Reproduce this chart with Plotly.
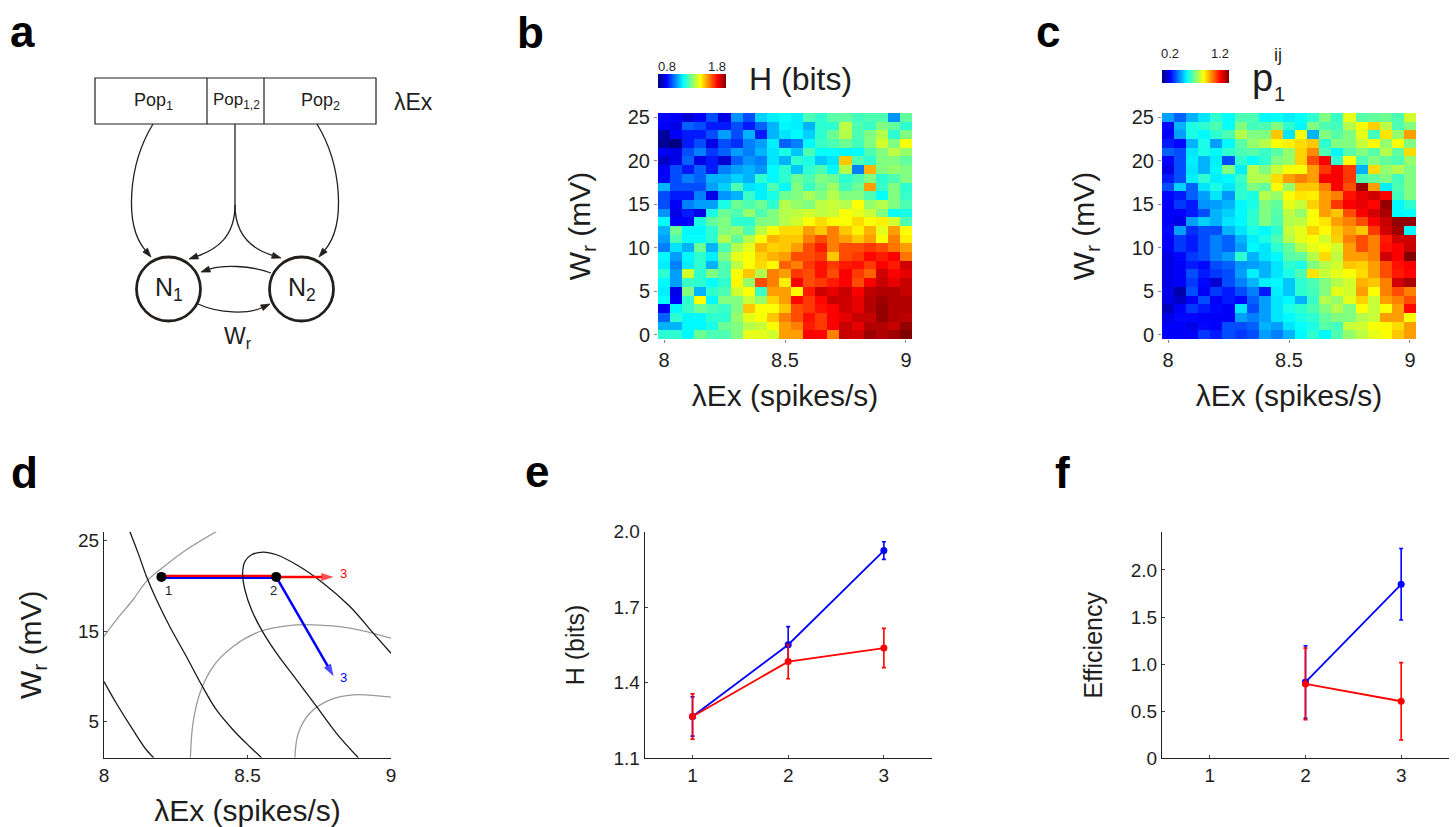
import math
import plotly.graph_objects as go

W, HH = 1456, 827
FONT = "Liberation Sans, Arial, Helvetica, sans-serif"
TXT = "#1e1e1e"

# ---------------- data ----------------
lam_ex = [8.00, 8.05, 8.10, 8.15, 8.20, 8.25, 8.30, 8.35, 8.40, 8.45, 8.50,
          8.55, 8.60, 8.65, 8.70, 8.75, 8.80, 8.85, 8.90, 8.95, 9.00]
w_r = [0, 1, 2, 3, 4, 5, 6, 7, 8, 9, 10, 11, 12, 13, 14, 15, 16, 17, 18, 19,
       20, 21, 22, 23, 24, 25]

# panel b: entropy H (bits), rows = W_r 0..25, cols = lambda 8..9
H_bits = [
    [1.22, 1.22, 1.17, 1.28, 1.25, 1.25, 1.30, 1.40, 1.40, 1.38, 1.52, 1.52, 1.68, 1.67, 1.55, 1.73, 1.72, 1.77, 1.75, 1.77, 1.80],
    [1.10, 1.10, 1.17, 1.17, 1.20, 1.28, 1.30, 1.35, 1.37, 1.42, 1.52, 1.55, 1.65, 1.62, 1.68, 1.73, 1.70, 1.75, 1.75, 1.73, 1.78],
    [1.02, 1.22, 1.17, 1.17, 1.22, 1.22, 1.32, 1.40, 1.42, 1.48, 1.55, 1.60, 1.66, 1.62, 1.68, 1.70, 1.73, 1.73, 1.78, 1.75, 1.74],
    [0.92, 1.17, 1.23, 1.28, 1.25, 1.23, 1.30, 1.48, 1.42, 1.42, 1.48, 1.60, 1.62, 1.66, 1.68, 1.72, 1.70, 1.75, 1.78, 1.75, 1.75],
    [1.18, 0.92, 1.22, 1.42, 1.17, 1.30, 1.30, 1.37, 1.32, 1.47, 1.52, 1.67, 1.62, 1.67, 1.73, 1.72, 1.70, 1.75, 1.77, 1.75, 1.75],
    [1.16, 0.90, 1.30, 1.10, 1.22, 1.25, 1.38, 1.42, 1.23, 1.52, 1.52, 1.43, 1.65, 1.72, 1.70, 1.73, 1.68, 1.74, 1.75, 1.75, 1.73],
    [1.17, 1.08, 1.23, 1.22, 1.18, 1.22, 1.43, 1.32, 1.60, 1.55, 1.44, 1.68, 1.60, 1.62, 1.65, 1.68, 1.60, 1.68, 1.73, 1.70, 1.73],
    [1.22, 1.08, 1.38, 1.22, 1.30, 1.25, 1.42, 1.48, 1.35, 1.55, 1.52, 1.62, 1.60, 1.66, 1.60, 1.68, 1.62, 1.58, 1.72, 1.68, 1.70],
    [1.16, 1.05, 1.16, 1.22, 1.10, 1.25, 1.36, 1.42, 1.46, 1.43, 1.58, 1.55, 1.62, 1.66, 1.62, 1.65, 1.66, 1.62, 1.68, 1.65, 1.72],
    [1.17, 1.08, 1.17, 1.22, 1.16, 1.30, 1.40, 1.42, 1.47, 1.50, 1.52, 1.60, 1.60, 1.62, 1.48, 1.60, 1.62, 1.67, 1.65, 1.68, 1.56],
    [1.05, 1.15, 1.10, 1.28, 1.10, 1.25, 1.35, 1.40, 1.50, 1.47, 1.48, 1.52, 1.60, 1.65, 1.55, 1.60, 1.60, 1.62, 1.60, 1.56, 1.52],
    [1.08, 1.25, 1.18, 1.18, 1.22, 1.35, 1.27, 1.35, 1.42, 1.50, 1.48, 1.48, 1.55, 1.60, 1.55, 1.52, 1.48, 1.52, 1.42, 1.55, 1.44],
    [1.10, 1.28, 1.17, 1.17, 1.22, 1.30, 1.32, 1.25, 1.36, 1.42, 1.46, 1.46, 1.52, 1.48, 1.55, 1.48, 1.44, 1.50, 1.40, 1.52, 1.42],
    [1.18, 0.92, 0.92, 1.20, 1.27, 1.30, 1.22, 1.22, 1.30, 1.30, 1.35, 1.38, 1.42, 1.46, 1.43, 1.42, 1.46, 1.42, 1.44, 1.38, 1.25],
    [1.07, 0.90, 0.95, 0.90, 1.20, 1.28, 1.25, 1.32, 1.25, 1.30, 1.35, 1.36, 1.38, 1.36, 1.37, 1.42, 1.40, 1.37, 1.30, 1.18, 1.20],
    [1.00, 0.92, 1.05, 1.08, 1.08, 1.20, 1.28, 1.25, 1.28, 1.22, 1.35, 1.32, 1.30, 1.36, 1.37, 1.35, 1.42, 1.32, 1.35, 1.30, 1.25],
    [1.00, 0.95, 0.95, 1.05, 0.90, 1.07, 1.10, 1.23, 1.16, 1.20, 1.28, 1.30, 1.34, 1.30, 1.35, 1.30, 1.30, 1.25, 1.18, 1.30, 1.23],
    [1.10, 1.00, 1.00, 1.00, 1.08, 1.13, 1.25, 1.15, 1.16, 1.25, 1.17, 1.30, 1.23, 1.28, 1.33, 1.24, 1.28, 1.52, 1.23, 1.30, 1.22],
    [0.92, 1.00, 1.05, 1.02, 1.10, 1.10, 1.13, 1.10, 1.22, 1.17, 1.22, 1.28, 1.25, 1.30, 1.28, 1.22, 1.25, 1.30, 1.22, 1.25, 1.30],
    [0.92, 1.00, 0.95, 1.02, 0.95, 1.05, 1.08, 1.10, 1.07, 1.17, 1.22, 1.12, 1.22, 1.25, 1.17, 1.35, 1.05, 1.50, 1.30, 1.32, 1.30],
    [0.87, 0.90, 1.02, 0.90, 0.95, 0.88, 1.02, 1.07, 1.05, 1.15, 1.10, 1.22, 1.20, 1.12, 1.15, 1.48, 1.25, 1.22, 1.30, 1.30, 1.27],
    [0.92, 0.90, 1.00, 1.05, 0.98, 1.02, 1.08, 1.05, 1.10, 1.15, 1.20, 1.12, 1.25, 1.18, 1.18, 1.17, 1.18, 1.25, 1.30, 1.36, 1.32],
    [0.82, 0.80, 0.95, 1.00, 0.90, 1.00, 0.97, 1.05, 1.08, 1.16, 1.02, 1.05, 1.17, 1.23, 1.25, 1.28, 1.24, 1.30, 1.38, 1.30, 1.42],
    [0.83, 0.92, 0.95, 0.95, 1.00, 1.08, 1.00, 1.10, 0.95, 1.10, 1.15, 1.17, 1.13, 1.22, 1.28, 1.35, 1.25, 1.30, 1.35, 1.22, 1.30],
    [0.92, 0.90, 1.02, 1.00, 0.95, 0.95, 1.00, 0.95, 1.02, 1.10, 1.17, 1.16, 1.10, 1.22, 1.22, 1.36, 1.25, 1.23, 1.30, 1.27, 1.22],
    [0.93, 0.92, 0.88, 0.92, 1.00, 0.90, 1.07, 1.00, 1.13, 1.16, 1.18, 1.16, 1.25, 1.22, 1.26, 1.27, 1.24, 1.25, 1.25, 1.07, 1.27],
]

# panel c: p1^ij, rows = W_r 0..25, cols = lambda 8..9
p1_ij = [
    [0.32, 0.32, 0.32, 0.38, 0.35, 0.40, 0.38, 0.40, 0.48, 0.45, 0.50, 0.57, 0.62, 0.57, 0.65, 0.72, 0.76, 0.80, 0.82, 0.88, 0.92],
    [0.32, 0.32, 0.30, 0.33, 0.32, 0.40, 0.40, 0.42, 0.50, 0.48, 0.55, 0.58, 0.60, 0.66, 0.64, 0.77, 0.78, 0.82, 0.83, 0.86, 0.92],
    [0.30, 0.33, 0.33, 0.32, 0.32, 0.32, 0.48, 0.45, 0.48, 0.55, 0.57, 0.60, 0.62, 0.67, 0.70, 0.70, 0.75, 0.77, 0.92, 0.92, 0.82],
    [0.26, 0.32, 0.38, 0.35, 0.33, 0.32, 0.55, 0.40, 0.48, 0.55, 0.60, 0.62, 0.65, 0.70, 0.75, 0.70, 0.82, 0.77, 0.82, 0.92, 1.07],
    [0.30, 0.27, 0.32, 0.40, 0.32, 0.35, 0.33, 0.42, 0.48, 0.55, 0.57, 0.50, 0.63, 0.75, 0.72, 0.80, 0.87, 0.77, 0.92, 0.95, 1.00],
    [0.30, 0.24, 0.40, 0.32, 0.38, 0.35, 0.40, 0.45, 0.35, 0.56, 0.52, 0.62, 0.64, 0.70, 0.80, 0.78, 0.92, 0.82, 0.95, 1.00, 0.95],
    [0.30, 0.32, 0.38, 0.33, 0.28, 0.40, 0.45, 0.50, 0.56, 0.57, 0.52, 0.62, 0.65, 0.70, 0.75, 0.78, 0.90, 0.88, 0.95, 1.12, 1.16],
    [0.30, 0.32, 0.40, 0.35, 0.38, 0.40, 0.48, 0.56, 0.50, 0.55, 0.60, 0.65, 0.85, 0.77, 0.80, 0.82, 0.86, 0.92, 1.00, 1.05, 1.07],
    [0.30, 0.32, 0.35, 0.33, 0.40, 0.42, 0.47, 0.48, 0.50, 0.55, 0.62, 0.60, 0.70, 0.75, 0.78, 0.88, 0.87, 0.92, 1.00, 1.06, 1.08],
    [0.30, 0.33, 0.38, 0.40, 0.45, 0.48, 0.62, 0.50, 0.55, 0.57, 0.66, 0.67, 0.75, 0.86, 0.76, 0.92, 0.92, 0.95, 1.12, 1.08, 1.20],
    [0.32, 0.38, 0.35, 0.40, 0.45, 0.42, 0.48, 0.57, 0.55, 0.62, 0.67, 0.75, 0.80, 0.82, 0.78, 0.92, 1.00, 0.95, 1.06, 1.08, 1.13],
    [0.32, 0.38, 0.35, 0.40, 0.45, 0.42, 0.50, 0.56, 0.60, 0.65, 0.75, 0.80, 0.82, 0.78, 0.87, 0.95, 1.00, 0.95, 1.05, 1.12, 1.12],
    [0.33, 0.48, 0.37, 0.40, 0.40, 0.50, 0.55, 0.60, 0.57, 0.62, 0.77, 0.80, 0.87, 0.83, 0.88, 0.92, 0.88, 1.02, 1.12, 1.17, 0.57],
    [0.32, 0.30, 0.48, 0.53, 0.50, 0.55, 0.57, 0.62, 0.70, 0.65, 0.75, 0.76, 0.82, 0.85, 0.92, 0.95, 1.00, 1.08, 1.13, 1.18, 1.18],
    [0.32, 0.32, 0.35, 0.40, 0.50, 0.53, 0.57, 0.62, 0.70, 0.66, 0.76, 0.72, 0.82, 0.92, 0.88, 1.00, 1.08, 1.12, 1.16, 0.57, 0.58],
    [0.32, 0.38, 0.35, 0.47, 0.48, 0.50, 0.57, 0.60, 0.70, 0.67, 0.80, 0.77, 0.87, 0.92, 1.02, 1.08, 1.10, 1.07, 1.18, 0.57, 0.62],
    [0.33, 0.35, 0.42, 0.48, 0.55, 0.47, 0.62, 0.60, 0.75, 0.72, 0.82, 0.85, 0.84, 0.92, 0.95, 1.06, 1.10, 1.12, 1.08, 0.64, 0.70],
    [0.40, 0.53, 0.42, 0.55, 0.60, 0.55, 0.62, 0.70, 0.67, 0.82, 0.72, 0.88, 0.88, 0.95, 1.08, 1.00, 1.17, 0.92, 0.56, 0.65, 0.70],
    [0.35, 0.40, 0.56, 0.62, 0.56, 0.57, 0.63, 0.75, 0.75, 0.86, 0.92, 0.95, 0.92, 1.08, 1.08, 1.02, 0.65, 0.67, 0.70, 0.64, 0.70],
    [0.30, 0.40, 0.55, 0.50, 0.57, 0.70, 0.56, 0.75, 0.70, 0.77, 0.82, 0.82, 0.92, 1.02, 1.08, 1.02, 0.50, 0.86, 0.72, 0.75, 0.70],
    [0.33, 0.40, 0.56, 0.50, 0.56, 0.40, 0.62, 0.58, 0.62, 0.70, 0.72, 0.87, 1.00, 1.08, 0.62, 0.82, 0.65, 0.70, 0.67, 0.65, 0.72],
    [0.42, 0.40, 0.55, 0.60, 0.57, 0.62, 0.65, 0.66, 0.63, 0.66, 0.72, 0.87, 0.94, 0.65, 0.57, 0.66, 0.70, 0.66, 0.75, 0.67, 0.86],
    [0.35, 0.33, 0.50, 0.60, 0.48, 0.57, 0.66, 0.72, 0.75, 0.82, 0.84, 0.86, 0.88, 0.62, 0.70, 0.70, 0.77, 0.83, 0.72, 0.82, 0.70],
    [0.32, 0.48, 0.60, 0.57, 0.62, 0.65, 0.75, 0.70, 0.70, 0.88, 0.55, 0.82, 0.50, 0.70, 0.66, 0.70, 0.80, 0.64, 0.85, 0.72, 0.92],
    [0.33, 0.50, 0.60, 0.62, 0.65, 0.58, 0.70, 0.64, 0.65, 0.70, 0.62, 0.57, 0.70, 0.65, 0.64, 0.75, 0.82, 0.87, 0.76, 0.65, 0.70],
    [0.48, 0.42, 0.50, 0.55, 0.62, 0.58, 0.65, 0.65, 0.57, 0.58, 0.56, 0.58, 0.62, 0.70, 0.63, 0.80, 0.66, 0.67, 0.68, 0.65, 0.78],
]

# panel d: contour lines (black: H, grey: p1) and trajectory
blk1_x = [8.000, 8.043, 8.101, 8.148, 8.173]
blk1_y = [9.42, 7.02, 4.07, 1.85, 1.00]
blk2_x = [8.090, 8.119, 8.148, 8.183, 8.229, 8.287, 8.340, 8.392, 8.450, 8.508, 8.549]
blk2_y = [26.03, 23.63, 21.05, 18.47, 15.51, 12.19, 9.05, 6.28, 4.07, 2.22, 1.00]
blk3_x = [9.000, 8.938, 8.857, 8.764, 8.671, 8.601, 8.555, 8.514, 8.491, 8.483,
          8.491, 8.514, 8.549, 8.601, 8.671, 8.741, 8.810, 8.886]
blk3_y = [12.56, 14.78, 17.73, 20.31, 22.34, 23.45, 23.75, 23.45, 22.71, 21.42,
          19.57, 17.36, 15.14, 12.56, 9.61, 6.65, 3.70, 1.00]
gry1_x = [8.000, 8.043, 8.101, 8.148, 8.217, 8.287, 8.392]
gry1_y = [14.41, 16.25, 18.47, 20.50, 22.34, 24.00, 26.03]
gry2_x = [8.301, 8.310, 8.334, 8.380, 8.450, 8.543, 8.636, 8.729, 8.857, 9.000]
gry2_y = [1.00, 4.81, 8.13, 11.08, 13.30, 14.96, 15.59, 15.70, 15.33, 14.22]
gry3_x = [8.665, 8.677, 8.717, 8.787, 8.869, 9.000]
gry3_y = [1.00, 3.70, 5.92, 7.40, 7.95, 7.69]

step_x = [8.2, 8.6]          # points 1 and 2
step_y = [21.0, 21.0]
red_end = (8.8, 21.0)        # step 3, red path
blue_end = (8.8, 10.0)       # step 3, blue path

# panel e / f
steps = [1, 2, 3]
H_blue = [1.266, 1.551, 1.925]
H_blue_err = [0.078, 0.072, 0.035]
H_red = [1.266, 1.484, 1.538]
H_red_err = [0.090, 0.068, 0.078]

eff_steps = [2, 3]
eff_blue = [0.81, 1.848]
eff_blue_err = [0.385, 0.380]
eff_red = [0.79, 0.606]
eff_red_err = [0.380, 0.410]

# ---------------- helpers ----------------
def dx(p):
    return p / W


def dy(p):
    return 1 - p / HH


JET = [[0.0, "#000080"], [0.125, "#0000ff"], [0.375, "#00ffff"],
       [0.625, "#ffff00"], [0.875, "#ff0000"], [1.0, "#800000"]]
BLUE = "#0000ff"
RED = "#ff0000"
INK = "#231f1c"

fig = go.Figure()

# heatmap b
fig.add_trace(go.Heatmap(
    x=lam_ex, y=w_r, z=H_bits, zmin=0.8, zmax=1.8, colorscale=JET,
    xaxis="x", yaxis="y", hoverinfo="skip",
    colorbar=dict(orientation="h", x=dx(658), xanchor="left", y=dy(88), yanchor="bottom",
                  len=68, lenmode="pixels", thickness=14, thicknessmode="pixels",
                  showticklabels=False, ticks="", outlinewidth=0, xpad=0, ypad=0),
))
# heatmap c
fig.add_trace(go.Heatmap(
    x=lam_ex, y=w_r, z=p1_ij, zmin=0.2, zmax=1.2, colorscale=JET,
    xaxis="x2", yaxis="y2", hoverinfo="skip",
    colorbar=dict(orientation="h", x=dx(1162), xanchor="left", y=dy(83), yanchor="bottom",
                  len=67, lenmode="pixels", thickness=13, thicknessmode="pixels",
                  showticklabels=False, ticks="", outlinewidth=0, xpad=0, ypad=0),
))

# panel d contours
for xs, ys, col in [(gry1_x, gry1_y, "#9a9a9a"), (gry2_x, gry2_y, "#9a9a9a"), (gry3_x, gry3_y, "#9a9a9a"),
                    (blk1_x, blk1_y, "#1a1a1a"), (blk2_x, blk2_y, "#1a1a1a"), (blk3_x, blk3_y, "#1a1a1a")]:
    fig.add_trace(go.Scatter(x=xs, y=ys, mode="lines", line=dict(color=col, width=1.3, shape="spline", smoothing=1.0),
                             xaxis="x3", yaxis="y3", hoverinfo="skip", showlegend=False))
# trajectory arrows (step 2 -> 3)
for end, col in [(red_end, RED), (blue_end, BLUE)]:
    fig.add_trace(go.Scatter(x=[step_x[1], end[0]], y=[step_y[1], end[1]], mode="lines+markers",
                             line=dict(color=col, width=2.5),
                             marker=dict(symbol=["circle", "arrow"], size=[0, 13], angleref="previous",
                                         color=col, line=dict(width=0)),
                             xaxis="x3", yaxis="y3", hoverinfo="skip", showlegend=False, cliponaxis=False))
fig.add_trace(go.Scatter(x=step_x, y=step_y, mode="markers", marker=dict(color="black", size=10),
                         xaxis="x3", yaxis="y3", hoverinfo="skip", showlegend=False))

# panel e
fig.add_trace(go.Scatter(x=steps, y=H_blue, mode="lines+markers", line=dict(color=BLUE, width=1.8),
                         marker=dict(color=BLUE, size=7),
                         error_y=dict(type="data", array=H_blue_err, color=BLUE, thickness=1.6, width=2),
                         xaxis="x4", yaxis="y4", showlegend=False))
fig.add_trace(go.Scatter(x=steps, y=H_red, mode="lines+markers", line=dict(color=RED, width=1.8),
                         marker=dict(color=RED, size=7),
                         error_y=dict(type="data", array=H_red_err, color=RED, thickness=1.6, width=2),
                         xaxis="x4", yaxis="y4", showlegend=False))
# panel f
fig.add_trace(go.Scatter(x=eff_steps, y=eff_blue, mode="lines+markers", line=dict(color=BLUE, width=1.8),
                         marker=dict(color=BLUE, size=7),
                         error_y=dict(type="data", array=eff_blue_err, color=BLUE, thickness=1.6, width=2),
                         xaxis="x5", yaxis="y5", showlegend=False))
fig.add_trace(go.Scatter(x=eff_steps, y=eff_red, mode="lines+markers", line=dict(color=RED, width=1.8),
                         marker=dict(color=RED, size=7),
                         error_y=dict(type="data", array=eff_red_err, color=RED, thickness=1.6, width=2),
                         xaxis="x5", yaxis="y5", showlegend=False))

# ---------------- axes ----------------
tickfont = dict(family=FONT, size=20, color=TXT)
title_font = dict(family=FONT, size=30, color=TXT)
heat_x = dict(range=[7.975, 9.025], tickvals=[8, 8.5, 9], ticktext=["8", "8.5", "9"], ticks="outside",
              ticklen=3, tickcolor="#888", showline=False, showgrid=False, zeroline=False, tickfont=tickfont,
              title=dict(text="λEx (spikes/s)", font=title_font, standoff=14))
heat_y = dict(range=[-0.5, 25.5], tickvals=[0, 5, 10, 15, 20, 25], ticks="outside", ticklen=3,
              tickcolor="#888", showline=False, showgrid=False, zeroline=False, tickfont=tickfont,
              title=dict(text="W<sub>r</sub> (mV)", font=title_font, standoff=28))

layout = dict(
    width=W, height=HH, margin=dict(l=0, r=0, t=0, b=0, autoexpand=False),
    paper_bgcolor="white", plot_bgcolor="rgba(0,0,0,0)", showlegend=False,
    font=dict(family=FONT, color=TXT),
    xaxis=dict(domain=[dx(658), dx(912)], anchor="y", **heat_x),
    yaxis=dict(domain=[dy(339), dy(113)], anchor="x", **heat_y),
    xaxis2=dict(domain=[dx(1162), dx(1416)], anchor="y2", **heat_x),
    yaxis2=dict(domain=[dy(339), dy(113)], anchor="x2", **heat_y),
    xaxis3=dict(domain=[dx(104), dx(391)], anchor="y3", range=[8, 9], tickvals=[8, 8.5, 9],
                ticktext=["8", "8.5", "9"], ticks="inside", ticklen=3, showline=True, linecolor="#222",
                linewidth=1.2, showgrid=False, zeroline=False, tickfont=dict(family=FONT, size=19, color=TXT),
                title=dict(text="λEx (spikes/s)", font=title_font, standoff=17)),
    yaxis3=dict(domain=[dy(757.7), dy(531.7)], anchor="x3", range=[1, 26], tickvals=[5, 15, 25],
                ticks="inside", ticklen=3, showline=True, linecolor="#222", linewidth=1.2, showgrid=False,
                zeroline=False, tickfont=dict(family=FONT, size=19, color=TXT),
                title=dict(text="W<sub>r</sub> (mV)", font=title_font, standoff=27)),
    xaxis4=dict(domain=[dx(644.7), dx(931.7)], anchor="y4", range=[0.5, 3.5], tickvals=[1, 2, 3],
                ticks="inside", ticklen=3, showline=True, linecolor="#222", linewidth=1.2, showgrid=False,
                zeroline=False, tickfont=dict(family=FONT, size=19, color=TXT)),
    yaxis4=dict(domain=[dy(758.3), dy(531.7)], anchor="x4", range=[1.1, 2.0], tickvals=[1.1, 1.4, 1.7, 2.0],
                tickformat=".1f", ticks="inside", ticklen=3, showline=True, linecolor="#222", linewidth=1.2,
                showgrid=False, zeroline=False, tickfont=dict(family=FONT, size=19, color=TXT),
                title=dict(text="H (bits)", font=dict(family=FONT, size=25, color=TXT), standoff=21)),
    xaxis5=dict(domain=[dx(1162), dx(1449)], anchor="y5", range=[0.5, 3.5], tickvals=[1, 2, 3],
                ticks="inside", ticklen=3, showline=True, linecolor="#222", linewidth=1.2, showgrid=False,
                zeroline=False, tickfont=dict(family=FONT, size=19, color=TXT)),
    yaxis5=dict(domain=[dy(758.3), dy(532.3)], anchor="x5", range=[0, 2.4], tickvals=[0, 0.5, 1.0, 1.5, 2.0],
                ticktext=["0", "0.5", "1.0", "1.5", "2.0"], ticks="inside", ticklen=3, showline=True,
                linecolor="#222", linewidth=1.2, showgrid=False, zeroline=False,
                tickfont=dict(family=FONT, size=19, color=TXT),
                title=dict(text="Efficiency", font=dict(family=FONT, size=25, color=TXT), standoff=20)),
    # drawing canvas in pixel units for the schematic and free labels
    xaxis6=dict(domain=[0, 1], anchor="y6", range=[0, W], visible=False, fixedrange=True),
    yaxis6=dict(domain=[0, 1], anchor="x6", range=[HH, 0], visible=False, fixedrange=True),
)
fig.update_layout(**layout)

shapes = []
annotations = []


def canvas_text(x, y, text, size, bold=False, color=TXT, xanchor="center", yanchor="middle"):
    annotations.append(dict(x=x, y=y, xref="x6", yref="y6", text=f"<b>{text}</b>" if bold else text,
                            showarrow=False, xanchor=xanchor, yanchor=yanchor,
                            font=dict(family=FONT, size=size, color=color)))


# panel letters
for lbl, cx, base in [("a", 22, 47), ("b", 530, 48), ("c", 1048, 47), ("d", 24, 488), ("e", 537, 487), ("f", 1062, 488)]:
    canvas_text(cx, base - 0.35 * 44, lbl, 44, bold=True, color="#000")

# ---------- panel a schematic ----------
shapes.append(dict(type="rect", xref="x6", yref="y6", x0=95, y0=78, x1=376, y1=124,
                   line=dict(color=INK, width=1.2)))
for xv in (207, 264):
    shapes.append(dict(type="line", xref="x6", yref="y6", x0=xv, y0=78, x1=xv, y1=124,
                       line=dict(color=INK, width=1.2)))
canvas_text(153, 101, "Pop<sub>1</sub>", 18)
canvas_text(236, 101, "Pop<sub>1,2</sub>", 17)
canvas_text(320, 101, "Pop<sub>2</sub>", 18)
canvas_text(413, 102, "λEx", 23)

for cx in (168.5, 301.5):
    shapes.append(dict(type="circle", xref="x6", yref="y6", x0=cx - 32, y0=289 - 32, x1=cx + 32, y1=289 + 32,
                       line=dict(color=INK, width=2.8)))
canvas_text(168.5, 289, "N<sub>1</sub>", 25)
canvas_text(301.5, 289, "N<sub>2</sub>", 25)
canvas_text(238, 337, "W<sub>r</sub>", 23)

shapes.append(dict(type="line", xref="x6", yref="y6", x0=235, y0=124, x1=235, y1=206,
                   line=dict(color=INK, width=1.3)))
curves_a = [
    ((153, 124), (128, 165), (124, 225), (151, 257)),
    ((235, 205), (235, 238), (215, 250), (189, 259)),
    ((235, 205), (235, 238), (255, 250), (281, 258)),
    ((317, 124), (342, 165), (346, 225), (319, 257)),
    ((271, 273), (250, 265), (222, 265), (201, 272)),
    ((198, 304), (220, 314), (248, 314), (270, 304)),
]
HEAD_L, HEAD_W = 9.0, 3.0
for p0, c1, c2, p3 in curves_a:
    tx, ty = p3[0] - c2[0], p3[1] - c2[1]
    n = math.hypot(tx, ty)
    ux, uy = tx / n, ty / n
    bx, by = p3[0] - ux * HEAD_L, p3[1] - uy * HEAD_L
    shapes.append(dict(type="path", xref="x6", yref="y6",
                       path=f"M{p0[0]},{p0[1]} C{c1[0]},{c1[1]} {c2[0]},{c2[1]} {bx:.2f},{by:.2f}",
                       line=dict(color=INK, width=1.3)))
    shapes.append(dict(type="path", xref="x6", yref="y6",
                       path=(f"M{p3[0]},{p3[1]} L{bx - uy * HEAD_W:.2f},{by + ux * HEAD_W:.2f} "
                             f"L{bx + uy * HEAD_W:.2f},{by - ux * HEAD_W:.2f} Z"),
                       fillcolor=INK, line=dict(color=INK, width=0.8)))

# ---------- panel b / c colorbar labels & titles ----------
canvas_text(667, 66, "0.8", 13)
canvas_text(717, 66, "1.8", 13)
canvas_text(800, 79, "H (bits)", 32)
canvas_text(1170, 53, "0.2", 13)
canvas_text(1220, 53, "1.2", 13)
canvas_text(1262, 78, "p", 38)
canvas_text(1279, 94, "1", 20)
canvas_text(1278, 55, "ij", 18)

# ---------- panel d trajectory: step 1 -> 2 shared by both paths ----------
for col, off in [(BLUE, -1.1), (RED, 1.1)]:
    shapes.append(dict(type="line", xref="x3", yref="y3", x0=step_x[0], x1=step_x[1],
                       ysizemode="pixel", yanchor=step_y[0], y0=off, y1=off,
                       line=dict(color=col, width=2.2), layer="below"))
for txt, xv, yv, col in [("1", 8.223, 19.5, TXT), ("2", 8.592, 19.5, TXT),
                         ("3", 8.835, 21.4, RED), ("3", 8.836, 9.9, BLUE)]:
    annotations.append(dict(x=xv, y=yv, xref="x3", yref="y3", text=txt, showarrow=False,
                            font=dict(family=FONT, size=13, color=col)))

fig.update_layout(shapes=shapes, annotations=annotations)
# the page body has a default 8px margin; remove it so the figure fills the window exactly
fig.write_html("out.html", config={"displayModeBar": False},
               post_script="document.body.style.margin='0px';")
